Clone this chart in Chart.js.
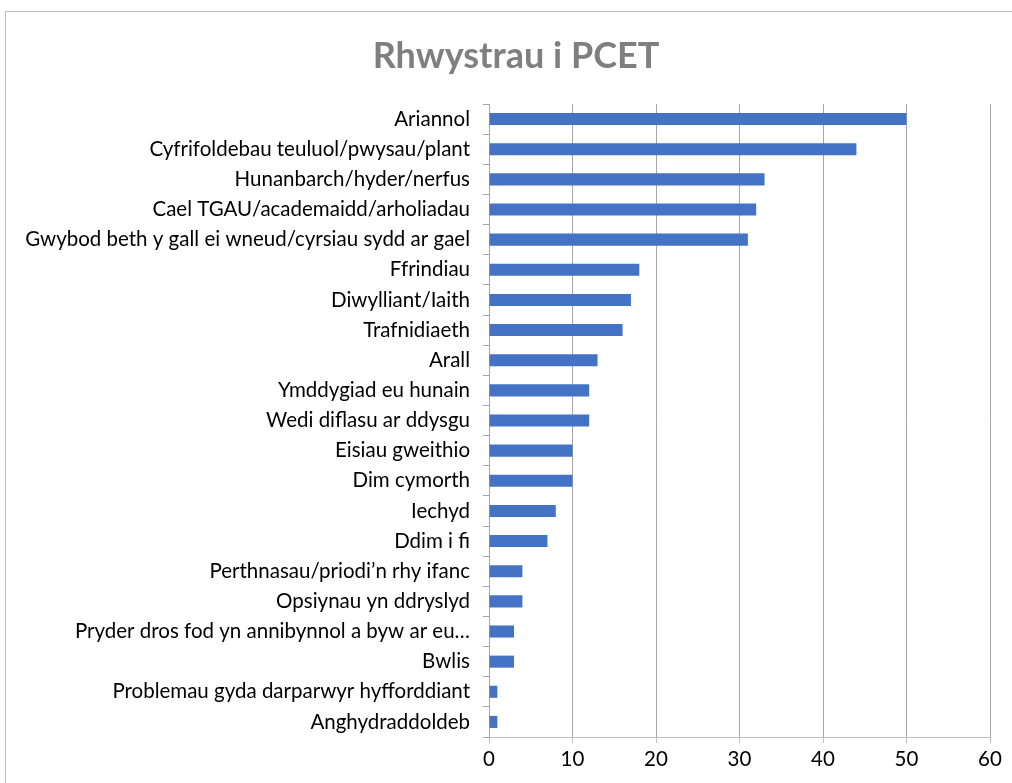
<!DOCTYPE html>
<html>
<head>
<meta charset="utf-8">
<script src="https://cdn.jsdelivr.net/npm/chart.js@4"></script>
<style>
  body { margin: 0; background: #fff; }
  #box { position: absolute; left: 5px; top: 11px; width: 1012px; height: 780px;
         border-top: 1px solid #c0c0c0; border-left: 1px solid #c0c0c0; }
  #wrap { position: absolute; left: 6px; top: 12px; width: 1006px; height: 771px; }
  #title { position: absolute; left: 316px; width: 400px; top: 33px; text-align: center;
           font: bold 36px/43px Lato, 'Liberation Sans', sans-serif; color: #7f7f7f; }
</style>
</head>
<body>
<div id="box"></div>
<div id="wrap"><canvas id="barChart"></canvas></div>
<div id="title"></div>
<script>
var chartTitle = "Rhwystrau i PCET";

var categories = [
    "Ariannol",
    "Cyfrifoldebau teuluol/pwysau/plant",
    "Hunanbarch/hyder/nerfus",
    "Cael TGAU/academaidd/arholiadau",
    "Gwybod beth y gall ei wneud/cyrsiau sydd ar gael",
    "Ffrindiau",
    "Diwylliant/Iaith",
    "Trafnidiaeth",
    "Arall",
    "Ymddygiad eu hunain",
    "Wedi diflasu ar ddysgu",
    "Eisiau gweithio",
    "Dim cymorth",
    "Iechyd",
    "Ddim i fi",
    "Perthnasau/priodi\u2019n rhy ifanc",
    "Opsiynau yn ddryslyd",
    "Pryder dros fod yn annibynnol a byw ar eu\u2026",
    "Bwlis",
    "Problemau gyda darparwyr hyfforddiant",
    "Anghydraddoldeb"
];

var values = [50, 44, 33, 32, 31, 18, 17, 16, 13, 12, 12, 10, 10, 8, 7, 4, 4, 3, 3, 1, 1];

var xMin = 0, xMax = 60, xStep = 10;

var labelFont = { family: "Lato, 'Liberation Sans', sans-serif", size: 20.5 };

// title sits a little right of the canvas centre, as in the original
document.getElementById("title").textContent = chartTitle;

new Chart("barChart", {
    type: "bar",
    data: {
        labels: categories,
        datasets: [{
            data: values,
            backgroundColor: "#4472C4",
            borderWidth: 0,
            barPercentage: 0.4,
            categoryPercentage: 1
        }]
    },
    options: {
        indexAxis: "y",
        responsive: true,
        maintainAspectRatio: false,
        animation: false,
        layout: { padding: { left: 0, right: 22, top: 92, bottom: 0 } },
        plugins: {
            legend: { display: false },
            tooltip: { enabled: false },
            title: { display: false }
        },
        scales: {
            x: {
                min: xMin,
                max: xMax,
                ticks: { stepSize: xStep, color: "#000", font: labelFont, padding: 4 },
                grid: { color: "#a6a6a6", tickLength: 6, tickColor: "#bfbfbf" },
                border: { color: "#bfbfbf" },
                afterFit: function (s) { s.height = 46; }
            },
            y: {
                ticks: { color: "#000", font: labelFont, padding: 13, autoSkip: false },
                grid: { drawOnChartArea: false, tickLength: 6, color: "#a6a6a6" },
                border: { color: "#a6a6a6" },
                afterFit: function (s) { s.width = 483; }
            }
        }
    }
});
</script>
</body>
</html>
